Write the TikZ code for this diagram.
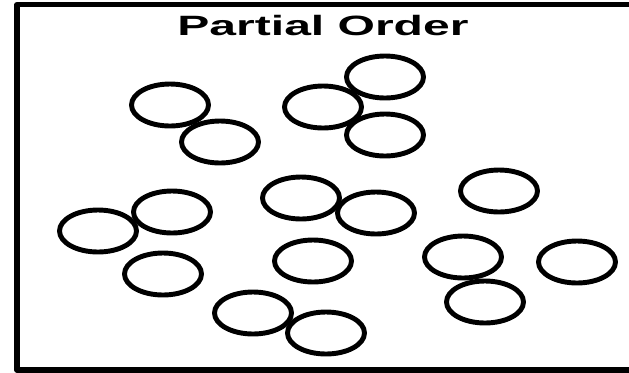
\documentclass[tikz,border=0pt]{standalone}
\usepackage{fontspec}
\setmainfont{Liberation Sans}

\begin{document}
\begin{tikzpicture}[line cap=round,line join=round,every node/.style={inner sep=1pt}]
  \useasboundingbox (0,0) rectangle (12.58,-7.44);
  % frame, open to the right
  \draw[line width=3pt] (12.90,-0.09) -- (0.34,-0.09) -- (0.34,-7.40) -- (12.90,-7.40);
  \node[anchor=base,xscale=1.72,transform shape] (title) at (6.46,-0.70)
    {\fontsize{15.9}{18}\selectfont\bfseries Partial Order};
  \foreach \x/\y in {3.40/-2.10,4.40/-2.84,6.46/-2.14,7.70/-1.54,7.70/-2.70,
                     1.96/-4.62,3.44/-4.24,6.02/-3.96,7.52/-4.26,9.98/-3.82,
                     3.26/-5.48,6.26/-5.22,9.26/-5.14,11.54/-5.24,9.70/-6.04,
                     5.06/-6.26,6.52/-6.66}{
    \draw[line width=2.8pt] (\x,\y) ellipse [x radius=0.77,y radius=0.42];
  }
\end{tikzpicture}
\end{document}
